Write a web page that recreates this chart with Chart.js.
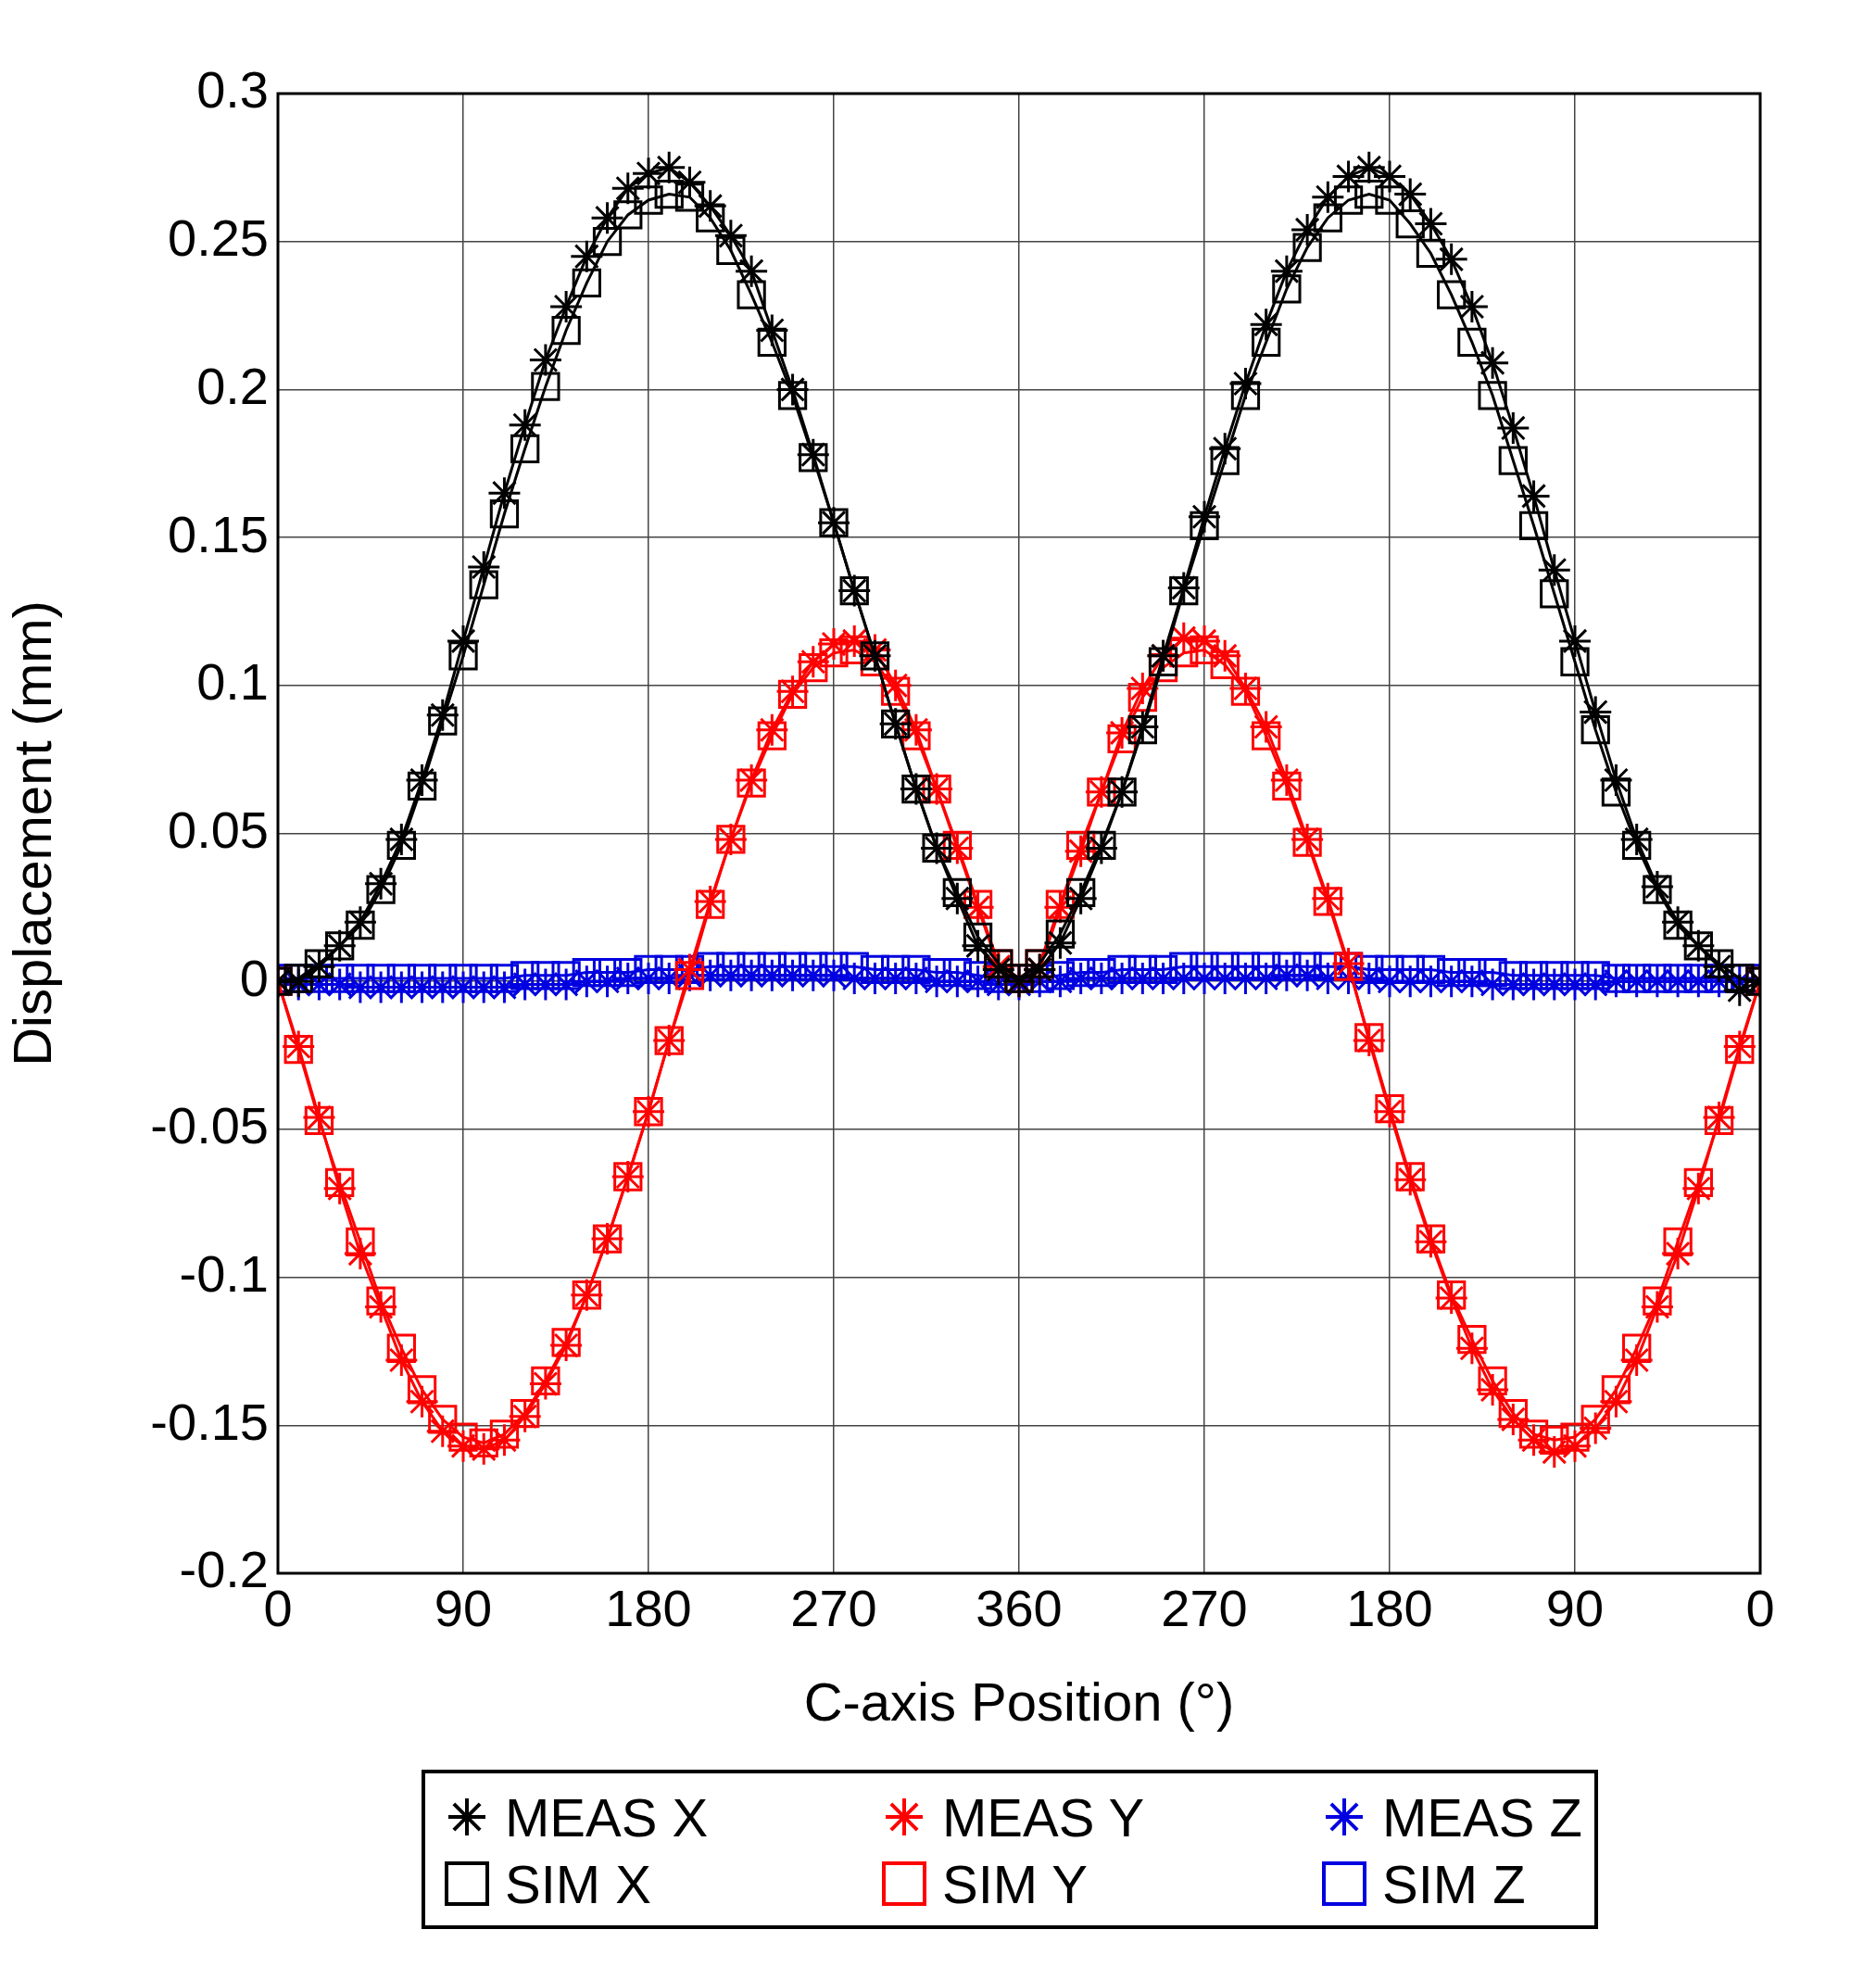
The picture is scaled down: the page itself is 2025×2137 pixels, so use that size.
<!DOCTYPE html>
<html><head><meta charset="utf-8">
<script src="https://cdn.jsdelivr.net/npm/chart.js@4"></script>
<style>
body{margin:0;background:#fff;font-family:Arial,"Liberation Sans",sans-serif;}
#wrap{position:absolute;left:0;top:0;width:2025px;height:1880px;}
#legend{position:absolute;left:455px;top:1910px;width:1270px;height:172px;border:4px solid #000;box-sizing:border-box;font-size:58px;}
.it{position:absolute;display:flex;align-items:center;height:70px;}
.it canvas{margin-right:14px;}
</style></head><body>
<div id="wrap"><canvas id="c" width="2025" height="1880"></canvas></div>
<div id="legend"></div>
<script>
const positions=[];for(let i=0;i<=72;i++)positions.push(i*10);
const xTickLabels=["0","90","180","270","360","270","180","90","0"];
const measX=[0,0.000,0.005,0.012,0.020,0.033,0.048,0.068,0.090,0.115,0.140,0.165,0.188,0.210,0.228,0.245,0.258,0.268,0.273,0.275,0.270,0.262,0.252,0.240,0.220,0.200,0.178,0.155,0.132,0.110,0.087,0.065,0.045,0.028,0.012,0.004,0.000,
0.004,0.013,0.028,0.045,0.064,0.086,0.110,0.133,0.157,0.180,0.202,0.222,0.240,0.254,0.265,0.272,0.275,0.272,0.266,0.256,0.244,0.228,0.209,0.187,0.164,0.139,0.115,0.091,0.068,0.048,0.032,0.020,0.012,0.005,-0.003,0];
const simX=[0,0.001,0.006,0.012,0.019,0.031,0.046,0.066,0.088,0.110,0.134,0.158,0.180,0.201,0.220,0.236,0.250,0.259,0.264,0.266,0.265,0.258,0.247,0.232,0.216,0.198,0.177,0.155,0.132,0.110,0.087,0.065,0.045,0.030,0.015,0.006,0.001,
0.006,0.016,0.030,0.046,0.064,0.085,0.108,0.132,0.154,0.176,0.198,0.216,0.234,0.248,0.258,0.264,0.266,0.264,0.256,0.246,0.232,0.216,0.198,0.176,0.154,0.131,0.108,0.085,0.064,0.046,0.031,0.019,0.012,0.006,0.001,0];
const measY=[0,-0.022,-0.046,-0.070,-0.092,-0.110,-0.128,-0.142,-0.152,-0.157,-0.158,-0.155,-0.147,-0.136,-0.123,-0.106,-0.087,-0.066,-0.044,-0.020,0.004,0.027,0.048,0.068,0.085,0.098,0.108,0.114,0.115,0.112,0.100,0.085,0.065,0.045,0.025,0.005,0,
0.004,0.025,0.044,0.064,0.084,0.099,0.110,0.116,0.115,0.110,0.099,0.086,0.068,0.048,0.028,0.006,-0.020,-0.044,-0.067,-0.088,-0.107,-0.124,-0.138,-0.148,-0.155,-0.159,-0.157,-0.151,-0.142,-0.128,-0.110,-0.092,-0.070,-0.046,-0.022,0];
const simY=[0,-0.023,-0.047,-0.068,-0.088,-0.108,-0.124,-0.138,-0.148,-0.154,-0.156,-0.153,-0.146,-0.135,-0.122,-0.106,-0.087,-0.066,-0.044,-0.020,0.002,0.026,0.048,0.067,0.083,0.097,0.106,0.111,0.112,0.108,0.098,0.083,0.065,0.046,0.026,0.006,0.001,
0.006,0.026,0.046,0.064,0.082,0.096,0.106,0.111,0.112,0.107,0.098,0.083,0.066,0.047,0.027,0.005,-0.019,-0.043,-0.066,-0.087,-0.106,-0.121,-0.135,-0.146,-0.153,-0.155,-0.154,-0.148,-0.138,-0.124,-0.108,-0.088,-0.068,-0.047,-0.023,0];
const measZ=[0,-0.001,-0.001,-0.001,-0.002,-0.002,-0.002,-0.002,-0.002,-0.002,-0.002,-0.002,-0.001,-0.001,-0.001,0,0,0.001,0.001,0.001,0.002,0.002,0.002,0.002,0.002,0.002,0.002,0.002,0.001,0.001,0.001,0.001,0,0,0,-0.001,-0.001,
0,0,0.001,0.001,0.001,0.001,0.001,0.001,0.001,0.001,0.001,0.001,0.002,0.002,0.001,0.001,0.001,0,0,0,0,0,-0.001,-0.001,-0.001,-0.001,-0.001,-0.001,0,0,0,0,0,0,0,0];
const simZ=[0.001,0.001,0.001,0.001,0.001,0.001,0.001,0.001,0.001,0.001,0.001,0.001,0.002,0.002,0.002,0.003,0.003,0.003,0.004,0.004,0.004,0.005,0.005,0.005,0.005,0.005,0.005,0.005,0.005,0.004,0.004,0.004,0.003,0.003,0.002,0.001,0.001,
0.001,0.002,0.003,0.003,0.004,0.004,0.004,0.005,0.005,0.005,0.005,0.005,0.005,0.005,0.005,0.005,0.004,0.004,0.004,0.004,0.003,0.003,0.003,0.002,0.002,0.002,0.002,0.002,0.001,0.001,0.001,0.001,0.001,0.001,0.001,0.001];
const toPts=a=>a.map((v,i)=>({x:positions[i],y:v}));
const BLK='#000',RED='#ff0000',BLU='#0000e0';
function ds(label,data,color,style,r){return{label,data:toPts(data),borderColor:color,backgroundColor:'transparent',pointStyle:style,pointRadius:r,pointBorderWidth:3,borderWidth:3,pointBorderColor:color,pointBackgroundColor:'transparent',tension:0};}
const FONT='Arial, "Liberation Sans", sans-serif';
const frame={id:'frame',afterDraw(c){const a=c.chartArea,x=c.ctx;x.save();x.strokeStyle='#000';x.lineWidth=3;x.strokeRect(a.left,a.top,a.right-a.left,a.bottom-a.top);x.restore();}};
new Chart(document.getElementById('c'),{type:'line',
data:{datasets:[ds('SIM X',simX,BLK,'rect',20),ds('MEAS X',measX,BLK,'star',17),ds('SIM Y',simY,RED,'rect',20),ds('MEAS Y',measY,RED,'star',17),ds('SIM Z',simZ,BLU,'rect',20),ds('MEAS Z',measZ,BLU,'star',17)]},
options:{responsive:false,devicePixelRatio:1,animation:false,
layout:{padding:{top:101,right:125,left:0,bottom:0}},
plugins:{legend:{display:false},tooltip:{enabled:false}},
scales:{
x:{type:'linear',min:0,max:720,afterFit(s){s.height=182;},
ticks:{stepSize:90,color:'#000',font:{size:56,family:FONT},padding:8,callback:(v)=>xTickLabels[Math.round(v/90)]},
grid:{color:'#444',lineWidth:1.5,borderDash:[3,4],drawTicks:false},border:{display:false},
title:{display:true,text:'C-axis Position (°)',color:'#000',font:{size:58,family:FONT},padding:{top:4}}},
y:{min:-0.2,max:0.3,afterFit(s){s.width=300;},
ticks:{stepSize:0.05,color:'#000',font:{size:56,family:FONT},padding:10,callback:v=>String(parseFloat(v.toFixed(2)))},
grid:{color:'#444',lineWidth:1.5,borderDash:[3,4],drawTicks:false},border:{display:false},
title:{display:true,text:'Displacement (mm)',color:'#000',font:{size:58,family:FONT},padding:{bottom:10}}}}},
plugins:[frame]});
const legItems=[['MEAS X',BLK,'star',0,0],['MEAS Y',RED,'star',1,0],['MEAS Z',BLU,'star',2,0],['SIM X',BLK,'rect',0,1],['SIM Y',RED,'rect',1,1],['SIM Z',BLU,'rect',2,1]];
const colX=[18,490,965],rowY=[12,84];
const L=document.getElementById('legend');
legItems.forEach(([t,c,s,col,row])=>{const d=document.createElement('div');d.className='it';d.style.left=colX[col]+'px';d.style.top=rowY[row]+'px';
const cv=document.createElement('canvas');cv.width=54;cv.height=54;const g=cv.getContext('2d');g.strokeStyle=c;g.lineWidth=4;
if(s==='rect'){g.strokeRect(5,5,44,44);}else{g.beginPath();const r=20;for(let k=0;k<4;k++){const a=k*Math.PI/4;g.moveTo(27-r*Math.cos(a),27-r*Math.sin(a));g.lineTo(27+r*Math.cos(a),27+r*Math.sin(a));}g.stroke();}
d.appendChild(cv);const sp=document.createElement('span');sp.textContent=t;sp.style.color='#000';d.appendChild(sp);L.appendChild(d);});
</script></body></html>
